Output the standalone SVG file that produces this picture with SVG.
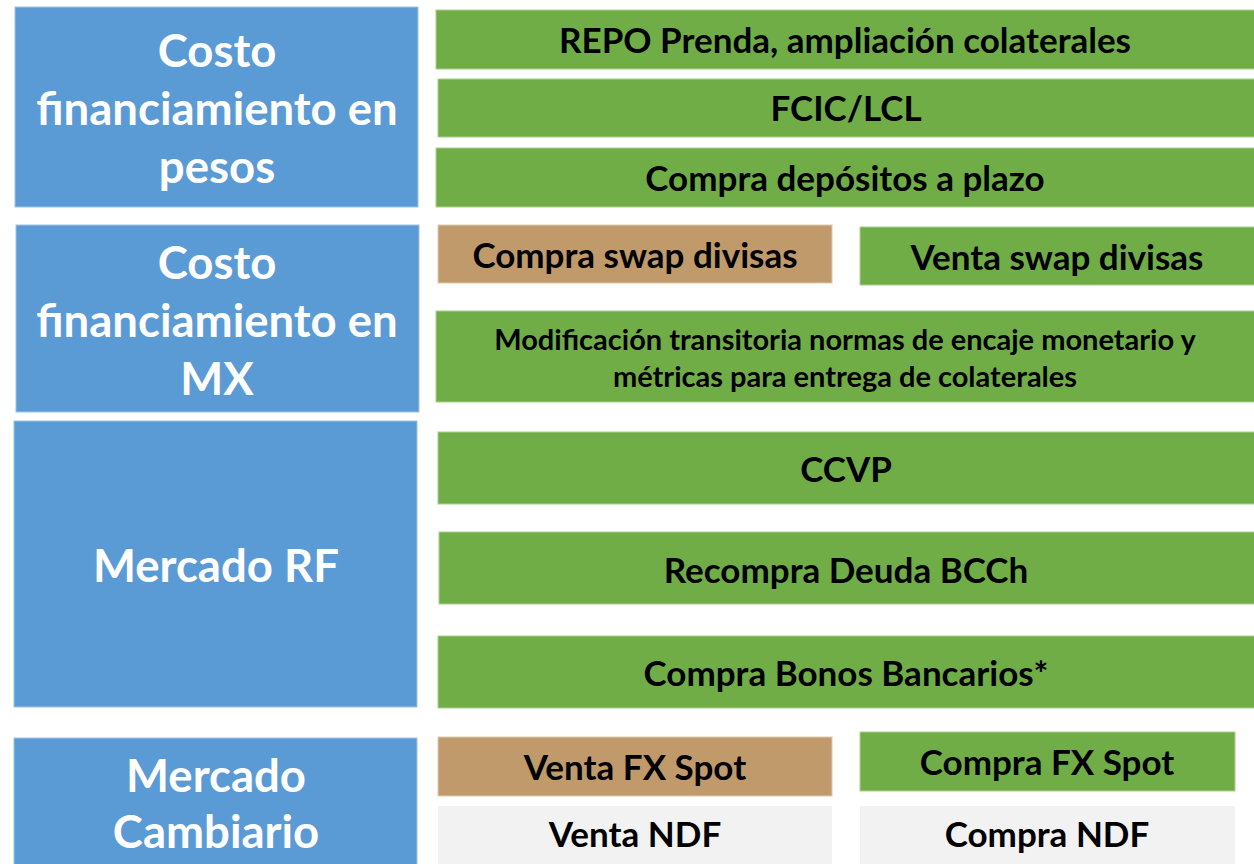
<svg xmlns="http://www.w3.org/2000/svg" width="1254" height="864" viewBox="0 0 1254 864">
<style>
.cat{fill:#5B9BD5;stroke:#9DC3E6;stroke-width:1}
.g{fill:#70AD47;stroke:#A9D18E;stroke-width:1}
.t{fill:#C09A6B;stroke:#E0CBB0;stroke-width:1}
.n{fill:#F2F2F2}
.ct{font-family:Lato,"Open Sans",sans-serif;font-weight:bold;font-size:45.5px;fill:#FFFFFF;text-anchor:middle}
.lt{font-family:Lato,"Open Sans",sans-serif;font-weight:bold;font-size:35px;fill:#000000;text-anchor:middle}
.st{font-family:Lato,"Open Sans",sans-serif;font-weight:bold;font-size:29px;fill:#000000;text-anchor:middle}
</style>
<rect width="1254" height="864" fill="#FFFFFF"/>
<g id="cat-pesos"><rect class="cat" x="15" y="7" width="403" height="200"/>
<text class="ct" x="217" y="67">Costo</text><text class="ct" x="217" y="125">financiamiento en</text><text class="ct" x="217" y="183">pesos</text></g>
<g id="cat-mx"><rect class="cat" x="16" y="225" width="403" height="187"/>
<text class="ct" x="217" y="279">Costo</text><text class="ct" x="217" y="337">financiamiento en</text><text class="ct" x="217" y="395">MX</text></g>
<g id="cat-rf"><rect class="cat" x="14" y="421" width="403" height="286"/>
<text class="ct" x="216" y="582">Mercado RF</text></g>
<g id="cat-fx"><rect class="cat" x="14" y="738" width="403" height="130"/>
<text class="ct" x="216" y="792">Mercado</text><text class="ct" x="216" y="848">Cambiario</text></g>
<g id="repo"><rect class="g" x="436" y="10" width="820" height="59"/><text class="lt" x="845" y="53">REPO Prenda, ampliación colaterales</text></g>
<g id="fcic"><rect class="g" x="438" y="79" width="818" height="58"/><text class="lt" x="846" y="121">FCIC/LCL</text></g>
<g id="depositos"><rect class="g" x="436" y="148" width="820" height="59"/><text class="lt" x="845" y="191">Compra depósitos a plazo</text></g>
<g id="compra-swap"><rect class="t" x="438" y="225" width="394" height="58"/><text class="lt" x="635" y="268">Compra swap divisas</text></g>
<g id="venta-swap"><rect class="g" x="860" y="227" width="396" height="58"/><text class="lt" x="1057" y="270">Venta swap divisas</text></g>
<g id="encaje"><rect class="g" x="436" y="311" width="820" height="91"/><text class="st" x="845" y="350">Modificación transitoria normas de encaje monetario y</text><text class="st" x="845" y="387">métricas para entrega de colaterales</text></g>
<g id="ccvp"><rect class="g" x="438" y="432" width="818" height="72"/><text class="lt" x="846" y="482">CCVP</text></g>
<g id="recompra"><rect class="g" x="439" y="532" width="817" height="72"/><text class="lt" x="846" y="583">Recompra Deuda BCCh</text></g>
<g id="bonos"><rect class="g" x="438" y="636" width="818" height="72"/><text class="lt" x="846" y="686">Compra Bonos Bancarios*</text></g>
<g id="venta-spot"><rect class="t" x="438" y="737" width="394" height="59"/><text class="lt" x="635" y="780">Venta FX Spot</text></g>
<g id="venta-ndf"><rect class="n" x="438" y="806" width="394" height="62"/><text class="lt" x="635" y="847">Venta NDF</text></g>
<g id="compra-spot"><rect class="g" x="860" y="732" width="375" height="59"/><text class="lt" x="1047" y="775">Compra FX Spot</text></g>
<g id="compra-ndf"><rect class="n" x="860" y="806" width="375" height="62"/><text class="lt" x="1047" y="847">Compra NDF</text></g>
<g id="connectors"></g>
</svg>
